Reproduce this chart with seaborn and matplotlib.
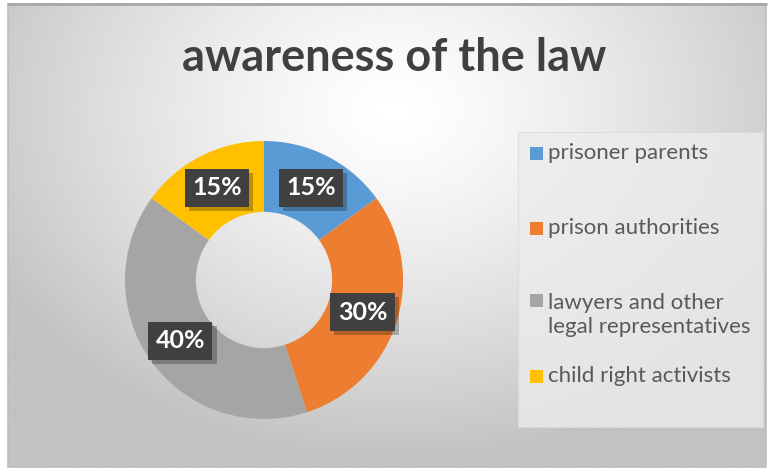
import numpy as np
import matplotlib
matplotlib.use("Agg")
import matplotlib.pyplot as plt
from matplotlib.patches import Rectangle
import matplotlib.patheffects as pe
import seaborn as sns

# Survey shares
categories = ["prisoner parents", "prison authorities",
              "lawyers and other legal representatives", "child right activists"]
legend_labels = ["prisoner parents", "prison authorities",
                 "lawyers and other\nlegal representatives", "child right activists"]
values = [15, 30, 40, 15]
title = "awareness of the law"

sns.set_theme(style="white")
plt.rcParams["font.family"] = ["Lato", "DejaVu Sans"]
colors = sns.color_palette(["#5B9BD5", "#ED7D31", "#A5A5A5", "#FFC000"])

W, H = 770, 472
fig = plt.figure(figsize=(W / 100, H / 100), dpi=100)
fig.patch.set_facecolor("white")
ax = fig.add_axes([0, 0, 1, 1])

# chart frame (pixel space, y measured from bottom)
fx0, fx1, fy_top, fy_bot = 8, 766, 4, 467
ys = lambda y: H - y

# radial gradient background
gx = np.linspace(fx0, fx1, 400)
gy = np.linspace(fy_top, fy_bot, 250)
X, Y = np.meshgrid(gx, gy)
d = np.sqrt(((X - 395) / 430) ** 2 + ((Y - 110) / 330) ** 2)
shade = np.clip(1.0 - 0.22 * d ** 1.3, 0.76, 1.0)
ax.imshow(shade, cmap="gray", vmin=0, vmax=1,
          extent=(fx0, fx1, ys(fy_bot), ys(fy_top)), origin="upper",
          aspect="auto", zorder=0, interpolation="bilinear")
ax.add_patch(Rectangle((fx0, ys(fy_bot)), fx1 - fx0, fy_bot - fy_top,
                       fill=False, ec="#bdbdbd", lw=1.2, zorder=1))
ax.plot([fx0, fx1], [ys(fy_top), ys(fy_top)], color="#a8a8a8", lw=2, zorder=1)

# donut
cx, cy, R = 264, ys(280), 139
width = 0.51
wedges, _ = ax.pie(values, colors=colors, startangle=90, counterclock=False,
                   radius=R, center=(cx, cy),
                   wedgeprops=dict(width=R * width, linewidth=0))
for w in wedges:
    w.set_zorder(2)

# data labels in the middle of the ring
rmid = R * (1 - width / 2)
total = sum(values)
cum = 0
for v in values:
    mid = 90 - 360 * (cum + v / 2) / total
    cum += v
    lx = cx + rmid * np.cos(np.radians(mid))
    ly = cy + rmid * np.sin(np.radians(mid))
    t = ax.text(lx, ly, f"{v}%", ha="center", va="center", fontsize=18,
                fontweight="bold", color="white", zorder=4,
                bbox=dict(boxstyle="square,pad=0.3", fc="#404040", ec="none"))
    t.get_bbox_patch().set_path_effects(
        [pe.SimplePatchShadow(offset=(3, -3), shadow_rgbFace="black", alpha=0.25),
         pe.Normal()])

# title
ax.text(394, ys(58), title, ha="center", va="center", fontsize=32.5,
        fontweight="bold", color="#404040", zorder=3)

# legend
ax.add_patch(Rectangle((518, ys(427)), 245, 295, fc="#ececec", ec="#dadada",
                       lw=0.8, alpha=0.8, zorder=2))
legend_y = [153, 228, 315, 376]
for lab, col, yy in zip(legend_labels, colors, legend_y):
    n = lab.count("\n") + 1
    top_line = yy - (n - 1) * 15
    ax.add_patch(Rectangle((530, ys(top_line) - 6.5), 13, 13, fc=col, ec="none", zorder=3))
    ax.text(548, ys(yy), lab, ha="left", va="center", fontsize=16,
            color="#595959", linespacing=1.2, zorder=3)

ax.set_xlim(0, W)
ax.set_ylim(0, H)
ax.set_aspect("equal")
ax.axis("off")
fig.savefig("out.png", dpi=100)
